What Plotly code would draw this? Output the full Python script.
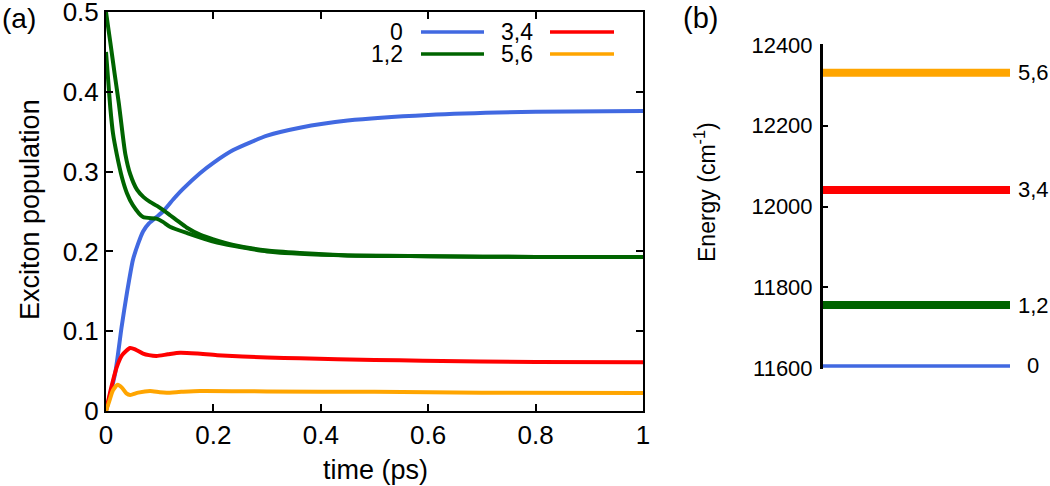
import plotly.graph_objects as go

# (a) exciton populations vs time
t_g1 = [0, 0.008, 0.016, 0.024, 0.03, 0.036, 0.045, 0.058, 0.07, 0.082, 0.095, 0.106,
        0.12, 0.132, 0.15, 0.175, 0.2, 0.237, 0.3, 0.361, 0.45, 0.6, 0.8, 1.0]
pop_g1 = [0.5, 0.462, 0.423, 0.385, 0.352, 0.322, 0.297, 0.277, 0.268, 0.262, 0.257, 0.252,
          0.245, 0.239, 0.23, 0.221, 0.215, 0.208, 0.201, 0.198, 0.195, 0.194, 0.193, 0.193]

t_g2 = [0, 0.004, 0.008, 0.013, 0.02, 0.03, 0.039, 0.05, 0.069, 0.094, 0.106, 0.119,
        0.151, 0.207, 0.237, 0.3, 0.361, 0.45, 0.6, 0.8, 1.0]
pop_g2 = [0.45, 0.415, 0.38, 0.348, 0.322, 0.292, 0.273, 0.258, 0.243, 0.241, 0.237, 0.231,
          0.223, 0.211, 0.207, 0.2, 0.197, 0.195, 0.194, 0.193, 0.193]

t_blue = [0, 0.017, 0.029, 0.039, 0.05, 0.06, 0.069, 0.08, 0.094, 0.106, 0.125, 0.143,
          0.175, 0.2, 0.237, 0.3, 0.361, 0.45, 0.6, 0.8, 1.0]
pop_blue = [0, 0.047, 0.105, 0.148, 0.189, 0.21, 0.225, 0.235, 0.243, 0.25, 0.265, 0.278,
            0.298, 0.311, 0.327, 0.345, 0.355, 0.364, 0.371, 0.375, 0.376]

t_red = [0, 0.01, 0.02, 0.03, 0.045, 0.055, 0.069, 0.08, 0.094, 0.115, 0.138, 0.17,
         0.207, 0.3, 0.361, 0.5, 0.59, 0.8, 1.0]
pop_red = [0, 0.03, 0.055, 0.07, 0.079, 0.077, 0.072, 0.07, 0.069, 0.071, 0.073, 0.072,
           0.07, 0.067, 0.066, 0.064, 0.063, 0.0615, 0.061]

t_orange = [0, 0.006, 0.013, 0.022, 0.03, 0.038, 0.045, 0.06, 0.082, 0.1, 0.113, 0.14,
            0.175, 0.3, 0.5, 0.7, 1.0]
pop_orange = [0, 0.012, 0.026, 0.033, 0.029, 0.022, 0.02, 0.023, 0.025, 0.0235, 0.023, 0.024,
              0.025, 0.0245, 0.024, 0.023, 0.0225]

# (b) exciton energy levels
level_names = ["0", "1,2", "3,4", "5,6"]
level_energy = [11605, 11756, 12041, 12331]

BLUE = "#4169e1"
GREEN = "#006400"
RED = "#ff0000"
ORANGE = "#ffa500"
level_colors = [BLUE, GREEN, RED, ORANGE]
level_widths = [3.5, 8, 8, 8]

FONT = "Liberation Sans, Arial, Helvetica, sans-serif"
W, H = 1050, 486


def px(x):
    return x / W


def py(y):
    return 1 - y / H


fig = go.Figure()

curves = [
    (t_blue, pop_blue, BLUE),
    (t_g1, pop_g1, GREEN),
    (t_g2, pop_g2, GREEN),
    (t_red, pop_red, RED),
    (t_orange, pop_orange, ORANGE),
]
for tx, ty, col in curves:
    fig.add_trace(go.Scatter(
        x=tx, y=ty, mode="lines",
        line=dict(color=col, width=4, shape="spline", smoothing=0.6),
        xaxis="x", yaxis="y", hoverinfo="skip",
    ))

for name, e, col, w in zip(level_names, level_energy, level_colors, level_widths):
    fig.add_trace(go.Scatter(
        x=[0, 1], y=[e, e], mode="lines",
        line=dict(color=col, width=w),
        xaxis="x2", yaxis="y2", hoverinfo="skip",
    ))
    # level label to the right of the bar
    fig.add_annotation(
        x=px(1033), y=e, xref="paper", yref="y2", text=name, showarrow=False,
        xanchor="center", yanchor="middle", font=dict(size=22, color="black"),
    )

# legend of panel (a): label left of the line sample (gnuplot style)
legend_items = [
    ("0", BLUE, 405, 421, 484, 32),
    ("1,2", GREEN, 405, 421, 484, 54),
    ("3,4", RED, 535, 550, 614, 32),
    ("5,6", ORANGE, 535, 550, 614, 54),
]
for label, col, xt, x0, x1, yy in legend_items:
    fig.add_annotation(
        x=px(xt), y=py(yy), xref="paper", yref="paper", text=label, showarrow=False,
        xanchor="right", yanchor="middle", font=dict(size=23, color="black"),
    )
    fig.add_shape(
        type="line", xref="paper", yref="paper",
        x0=px(x0), x1=px(x1), y0=py(yy), y1=py(yy), line=dict(color=col, width=3.5),
    )

# axis titles and panel tags
fig.add_annotation(
    x=px(30), y=py(210), xref="paper", yref="paper", text="Exciton population",
    textangle=-90, showarrow=False, xanchor="center", yanchor="middle",
    font=dict(size=27, color="black"),
)
fig.add_annotation(
    x=px(375), y=py(470), xref="paper", yref="paper", text="time (ps)",
    showarrow=False, xanchor="center", yanchor="middle",
    font=dict(size=27, color="black"),
)
fig.add_annotation(
    x=px(705), y=py(192), xref="paper", yref="paper", text="Energy (cm<sup>-1</sup>)",
    textangle=-90, showarrow=False, xanchor="center", yanchor="middle",
    font=dict(size=23, color="black"),
)
fig.add_annotation(
    x=px(0), y=py(19), xref="paper", yref="paper", text="(a)",
    showarrow=False, xanchor="left", yanchor="middle",
    font=dict(size=28, color="black"),
)
fig.add_annotation(
    x=px(681), y=py(18), xref="paper", yref="paper", text="(b)",
    showarrow=False, xanchor="left", yanchor="middle",
    font=dict(size=29, color="black"),
)

axis_common = dict(
    automargin=False, showgrid=False, zeroline=False,
    tickcolor="black", linecolor="black", ticklabeloverflow="allow",
)

fig.update_layout(
    width=W, height=H,
    margin=dict(l=0, r=0, t=0, b=0, pad=0, autoexpand=False),
    paper_bgcolor="white", plot_bgcolor="white",
    showlegend=False,
    font=dict(family=FONT, color="black"),
    xaxis=dict(
        domain=[px(106), px(643)], range=[0, 1],
        tickvals=[0, 0.2, 0.4, 0.6, 0.8, 1], ticktext=["0", "0.2", "0.4", "0.6", "0.8", "1"],
        ticks="inside", ticklen=7, tickwidth=2,
        showline=True, linewidth=2, mirror="ticks",
        tickfont=dict(size=26), ticklabelstandoff=0,
        **axis_common,
    ),
    yaxis=dict(
        domain=[py(411), py(12)], range=[0, 0.5],
        tickvals=[0, 0.1, 0.2, 0.3, 0.4, 0.5], ticktext=["0", "0.1", "0.2", "0.3", "0.4", "0.5"],
        ticks="inside", ticklen=7, tickwidth=2,
        showline=True, linewidth=2, mirror="ticks",
        tickfont=dict(size=26), ticklabelstandoff=0,
        **axis_common,
    ),
    xaxis2=dict(
        domain=[px(823), px(1010)], range=[0, 1], anchor="y2",
        visible=False, **axis_common,
    ),
    yaxis2=dict(
        domain=[py(368.8), py(44.2)], range=[11598, 12402], anchor="x2",
        tickvals=[11600, 11800, 12000, 12200, 12400], tickformat="d",
        ticks="inside", ticklen=5, tickwidth=2,
        showline=True, linewidth=3,
        tickfont=dict(size=22), ticklabelstandoff=3,
        **axis_common,
    ),
)

fig.write_html(
    "out.html",
    config={"displayModeBar": False},
    post_script="document.body.style.margin='0';",
)
